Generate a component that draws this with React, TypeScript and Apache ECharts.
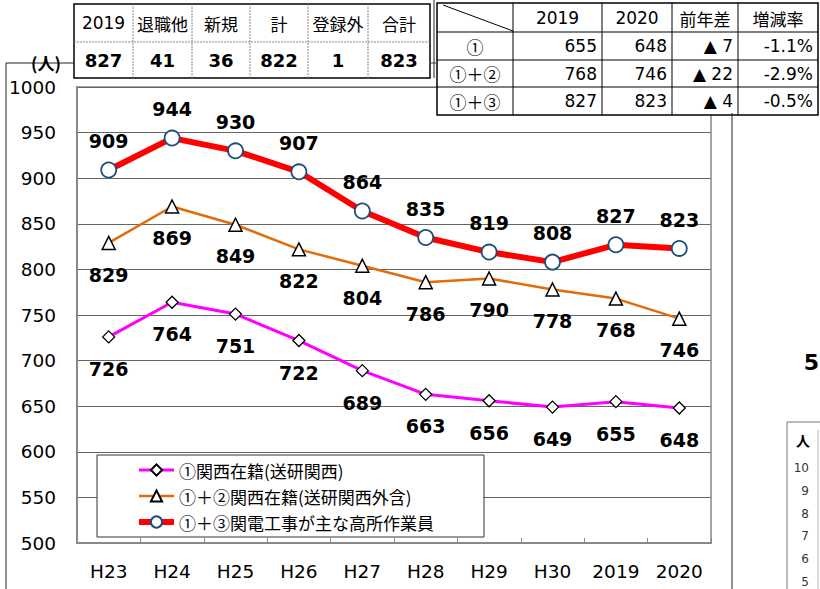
import React, { useEffect, useRef } from "react";
import * as echarts from "echarts";

// ---- data ----
const categories = ["H23", "H24", "H25", "H26", "H27", "H28", "H29", "H30", "2019", "2020"];
const seriesNames = [
  "①関西在籍(送研関西)",
  "①＋②関西在籍(送研関西外含)",
  "①＋③関電工事が主な高所作業員",
];
const kansaiOnly = [726, 764, 751, 722, 689, 663, 656, 649, 655, 648];
const kansaiInclOther = [829, 869, 849, 822, 804, 786, 790, 778, 768, 746];
const highPlaceWorkers = [909, 944, 930, 907, 864, 835, 819, 808, 827, 823];
const yMin = 500;
const yMax = 1000;
const yStep = 50;
const yUnit = "(人)";

const summaryHeaders = ["2019", "退職他", "新規", "計", "登録外", "合計"];
const summaryValues = ["827", "41", "36", "822", "1", "823"];

const compareHeaders = ["2019", "2020", "前年差", "増減率"];
const compareRowLabels = ["①", "①＋②", "①＋③"];
const compare2019 = ["655", "768", "827"];
const compare2020 = ["648", "746", "823"];
const compareDiff = ["▲ 7", "▲ 22", "▲ 4"];
const compareRate = ["-1.1%", "-2.9%", "-0.5%"];

const sideUnit = "人";
const sideTicks = ["10", "9", "8", "7", "6", "5"];
const sideHeading = "5";

const NUM_FONT = "DejaVu Sans";
const JP_FONT = "Noto Sans CJK JP";

function txt(x: number, y: number, text: string, o: any = {}) {
  const align = o.align || "center";
  return {
    type: "text",
    x,
    y,
    z: 10,
    style: {
      text,
      fontSize: o.size || 16,
      fontWeight: o.bold ? "bold" : "normal",
      fontFamily: o.font || NUM_FONT,
      fill: o.color || "#000",
      align,
      textAlign: align,
      verticalAlign: "middle",
      textVerticalAlign: "middle",
    },
  };
}
function ln(x1: number, y1: number, x2: number, y2: number, o: any = {}) {
  return {
    type: "line",
    z: 9,
    shape: { x1, y1, x2, y2 },
    style: { stroke: o.color || "#000", lineWidth: o.width || 1, lineDash: o.dash || null },
  };
}

function buildGraphics() {
  const g: any[] = [];
  // outer frame lines
  g.push(ln(6, 63, 6, 589, { color: "#222" }));
  g.push(ln(6, 63, 74, 63, { color: "#222" }));
  g.push(ln(430, 63, 437, 63, { color: "#444" }));
  g.push(ln(434, 0, 434, 78, { color: "#222" }));
  g.push(ln(732, 113, 732, 589, { color: "#222" }));
  g.push(txt(46, 62, yUnit, { size: 17, bold: true, font: JP_FONT }));

  // summary table (top-left)
  const sc = [74, 133, 192, 250, 308, 368, 430];
  const sr = [4, 42, 78];
  g.push({ type: "rect", z: 8, shape: { x: sc[0], y: sr[0], width: sc[6] - sc[0], height: sr[2] - sr[0] }, style: { fill: "#fff", stroke: "#000", lineWidth: 1.5 } });
  g.push(ln(sc[0], sr[1], sc[6], sr[1], { color: "#888", dash: [2, 1] }));
  for (let i = 1; i < 6; i++) g.push(ln(sc[i], sr[0], sc[i], sr[2], { color: "#888", dash: [2, 1] }));
  summaryHeaders.forEach((h, i) => {
    const cx = (sc[i] + sc[i + 1]) / 2;
    g.push(txt(cx, 23, h, { size: 17, font: /\d/.test(h) ? NUM_FONT : JP_FONT }));
    g.push(txt(cx, 60, summaryValues[i], { size: 18, bold: true }));
  });

  // comparison table (top-right)
  const cc = [437, 513, 602, 672, 738, 818];
  const cr = [3, 32, 60, 87, 115];
  g.push({ type: "rect", z: 8, shape: { x: cc[0], y: cr[0], width: cc[5] - cc[0], height: cr[4] - cr[0] }, style: { fill: "#fff", stroke: "#000", lineWidth: 1.5 } });
  for (let r = 1; r < 4; r++) g.push(ln(cc[0], cr[r], cc[5], cr[r]));
  for (let c = 1; c < 5; c++) g.push(ln(cc[c], cr[0], cc[c], cr[4]));
  g.push(ln(443, 5, 513, 31, { color: "#000" }));
  compareHeaders.forEach((h, i) => {
    const cx = (cc[i + 1] + cc[i + 2]) / 2;
    g.push(txt(cx, 18, h, { size: 17, font: /\d/.test(h) ? NUM_FONT : JP_FONT }));
  });
  compareRowLabels.forEach((lab, r) => {
    const cy = (cr[r + 1] + cr[r + 2]) / 2;
    g.push(txt((cc[0] + cc[1]) / 2, cy, lab, { size: 17, font: JP_FONT }));
    g.push(txt(cc[2] - 5, cy, compare2019[r], { size: 17, align: "right" }));
    g.push(txt(cc[3] - 5, cy, compare2020[r], { size: 17, align: "right" }));
    g.push(txt(cc[4] - 5, cy, compareDiff[r], { size: 17, align: "right" }));
    g.push(txt(cc[5] - 5, cy, compareRate[r], { size: 17, align: "right" }));
  });

  // neighbouring chart fragment (bottom-right)
  g.push(txt(819, 362, sideHeading, { size: 22, bold: true, align: "right" }));
  g.push(ln(787, 422, 820, 422, { color: "#777" }));
  g.push(ln(787, 422, 787, 589, { color: "#777" }));
  g.push(ln(818, 430, 818, 589, { color: "#bbb" }));
  g.push(txt(803, 440, sideUnit, { size: 14, bold: true, font: JP_FONT }));
  sideTicks.forEach((t, i) => {
    g.push(txt(809, 468 + i * 22.8, t, { size: 12, color: "#333", align: "right" }));
  });
  return g;
}

const labelBase = { show: true, fontSize: 19, fontWeight: "bold", fontFamily: NUM_FONT, color: "#000" };
const lineWidths = [3, 2.5, 6];

export default function App() {
  const ref = useRef<HTMLDivElement>(null);
  useEffect(() => {
    if (!ref.current) return;
    const chart = echarts.init(ref.current, null, { renderer: "svg" });
    chart.setOption({
      animation: false,
      backgroundColor: "#fff",
      grid: { left: 77, right: 109, top: 87, bottom: 46, show: true, borderColor: "#888", borderWidth: 1.5, backgroundColor: "transparent" },
      legend: {
        orient: "vertical",
        left: 97,
        top: 455,
        data: seriesNames.map((n, i) => ({ name: n, lineStyle: { width: lineWidths[i] } })),
        backgroundColor: "#fff",
        borderColor: "#333",
        borderWidth: 1,
        padding: [6, 50, 6, 39],
        itemWidth: 35,
        itemHeight: 14,
        itemGap: 8,
        textStyle: { fontSize: 17, lineHeight: 18, fontFamily: JP_FONT, color: "#000" },
      },
      xAxis: {
        type: "category",
        data: categories,
        boundaryGap: true,
        axisLine: { lineStyle: { color: "#888", width: 2 } },
        axisTick: { show: true, inside: true, length: 5, lineStyle: { color: "#888" } },
        axisLabel: { fontSize: 18.5, color: "#000", fontFamily: NUM_FONT, margin: 19 },
      },
      yAxis: {
        type: "value",
        min: yMin,
        max: yMax,
        interval: yStep,
        axisLine: { show: true, lineStyle: { color: "#888", width: 2 } },
        axisTick: { show: false },
        splitLine: { lineStyle: { color: "#666", width: 1 } },
        axisLabel: { fontSize: 18.5, color: "#000", fontFamily: NUM_FONT, margin: 21, formatter: (v: number) => String(v) },
      },
      series: [
        {
          name: seriesNames[0],
          type: "line",
          data: kansaiOnly,
          symbol: "diamond",
          symbolSize: 12,
          itemStyle: { color: "#fff", borderColor: "#000", borderWidth: 1.3 },
          lineStyle: { color: "#FF00FF", width: lineWidths[0] },
          label: { ...labelBase, position: "bottom", distance: 16 },
          emphasis: { disabled: true },
        },
        {
          name: seriesNames[1],
          type: "line",
          data: kansaiInclOther,
          symbol: "triangle",
          symbolSize: 13,
          itemStyle: { color: "#fff", borderColor: "#000", borderWidth: 1.5 },
          lineStyle: { color: "#E36C0A", width: lineWidths[1] },
          label: { ...labelBase, position: "bottom", distance: 15 },
          emphasis: { disabled: true },
        },
        {
          name: seriesNames[2],
          type: "line",
          data: highPlaceWorkers,
          symbol: "circle",
          symbolSize: 15,
          itemStyle: { color: "#fff", borderColor: "#1F4E79", borderWidth: 1.8 },
          lineStyle: { color: "#FF0000", width: lineWidths[2] },
          label: { ...labelBase, position: "top", distance: 11 },
          emphasis: { disabled: true },
        },
      ],
      graphic: { elements: buildGraphics() },
    });
    return () => chart.dispose();
  }, []);
  return (
    <div
      ref={ref}
      style={{ position: "fixed", left: 0, top: 0, width: 820, height: 589, background: "#fff" }}
    />
  );
}
